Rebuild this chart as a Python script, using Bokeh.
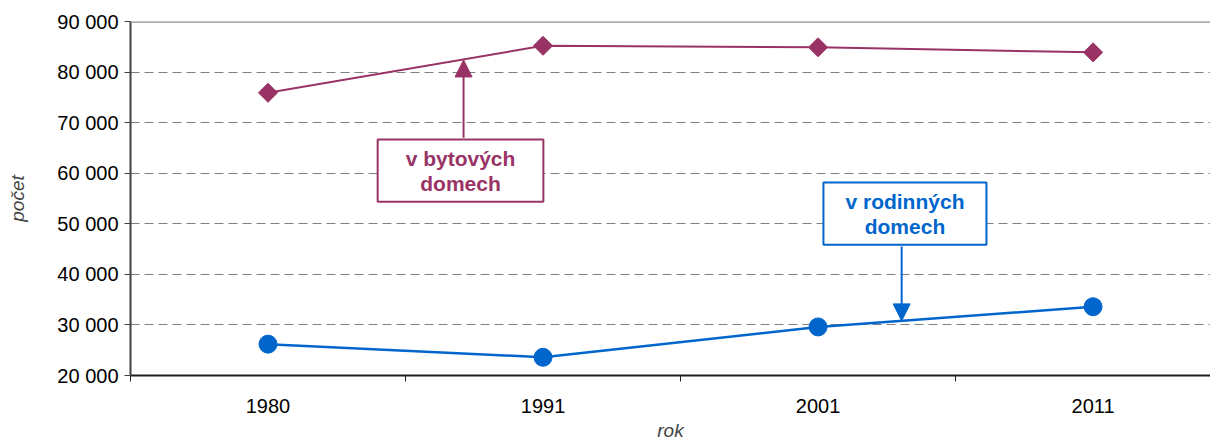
from bokeh.plotting import figure
from bokeh.models import (Range1d, FixedTicker, Span, Label, Arrow, NormalHead,
                          ColumnDataSource)
from bokeh.embed import file_html
from bokeh.resources import INLINE
import numpy as np

# ---- data ----
years = ["1980", "1991", "2001", "2011"]
bytove = [75900, 85200, 84900, 83900]      # v bytových domech
rodinne = [26200, 23600, 29600, 33600]     # v rodinných domech
y_ticks = [20000, 30000, 40000, 50000, 60000, 70000, 80000, 90000]
y_tick_labels = ["20 000", "30 000", "40 000", "50 000", "60 000", "70 000", "80 000", "90 000"]

FONT = "Liberation Sans"
PURPLE = "#993366"
BLUE = "#0066CC"

xpos = [i + 0.5 for i in range(len(years))]
src = ColumnDataSource(dict(x=xpos, b=bytove, r=rodinne))

p = figure(width=1210, height=443, output_backend="svg", toolbar_location=None,
           x_range=Range1d(0, 3.927), y_range=Range1d(20000, 90000),
           min_border_left=130, min_border_right=0, min_border_top=21,
           min_border_bottom=68)
p.outline_line_color = None
p.background_fill_color = "white"

# grid
p.xgrid.grid_line_color = None
p.ygrid.ticker = FixedTicker(ticks=y_ticks)
p.ygrid.grid_line_color = "#808080"
p.ygrid.grid_line_dash = "9 5"
p.ygrid.grid_line_width = 1

# top border
p.add_layout(Span(location=90000, dimension="width", line_color="#8c8c8c", line_width=2.5))

# y axis
yax = p.yaxis[0]
yax.ticker = FixedTicker(ticks=y_ticks)
yax.major_label_overrides = {t: l for t, l in zip(y_ticks, y_tick_labels)}
yax.major_label_text_font = FONT
yax.major_label_text_font_size = "20px"
yax.major_label_text_color = "black"
yax.axis_line_color = "#404040"
yax.axis_line_width = 2
yax.major_tick_line_color = "#404040"
yax.major_tick_out = 6
yax.major_tick_in = 0
yax.minor_tick_line_color = None
yax.major_label_standoff = 6
yax.axis_label = "počet"
yax.axis_label_text_font = FONT
yax.axis_label_text_font_style = "italic"
yax.axis_label_text_font_size = "19px"
yax.axis_label_standoff = 26

# x axis
xax = p.xaxis[0]
xax.ticker = FixedTicker(ticks=xpos, minor_ticks=[0, 1, 2, 3, 4])
xax.major_label_overrides = {x: y for x, y in zip(xpos, years)}
xax.major_label_text_font = FONT
xax.major_label_text_font_size = "20px"
xax.major_label_text_color = "black"
xax.major_tick_line_color = None
xax.major_tick_out = 0
xax.major_tick_in = 0
xax.minor_tick_line_color = "#202020"
xax.minor_tick_out = 6
xax.minor_tick_in = 0
xax.axis_line_color = "#202020"
xax.axis_line_width = 2
xax.major_label_standoff = 17
xax.axis_label = "rok"
xax.axis_label_text_font = FONT
xax.axis_label_text_font_style = "italic"
xax.axis_label_text_font_size = "19px"
xax.axis_label_standoff = 4

# series
p.line("x", "b", source=src, line_color=PURPLE, line_width=2)
p.scatter("x", "b", source=src, marker="square", angle=np.pi / 4, size=13.5,
          fill_color=PURPLE, line_color=PURPLE)
p.line("x", "r", source=src, line_color=BLUE, line_width=2.5)
p.scatter("x", "r", source=src, marker="circle", size=18,
          fill_color=BLUE, line_color=BLUE)

# annotations
p.add_layout(Arrow(end=NormalHead(size=17, fill_color=PURPLE, line_color=PURPLE),
                   x_start=1.211, y_start=67000, x_end=1.211, y_end=82400,
                   line_color=PURPLE, line_width=2))
p.add_layout(Label(x=1.2, y=60500, text="v bytových\ndomech", text_align="center",
                   text_baseline="middle", text_font=FONT, text_font_style="bold",
                   text_font_size="21px", text_color=PURPLE, text_line_height=1.1,
                   border_line_color=PURPLE, border_line_width=2,
                   background_fill_color="white", padding=(28, 7)))
p.add_layout(Arrow(end=NormalHead(size=17, fill_color=BLUE, line_color=BLUE),
                   x_start=2.804, y_start=45500, x_end=2.804, y_end=30800,
                   line_color=BLUE, line_width=2))
p.add_layout(Label(x=2.816, y=52000, text="v rodinných\ndomech", text_align="center",
                   text_baseline="middle", text_font=FONT, text_font_style="bold",
                   text_font_size="21px", text_color=BLUE, text_line_height=1.1,
                   border_line_color=BLUE, border_line_width=2,
                   background_fill_color="white", padding=(22, 7)))

open("out.html", "w").write(file_html(p, INLINE))
